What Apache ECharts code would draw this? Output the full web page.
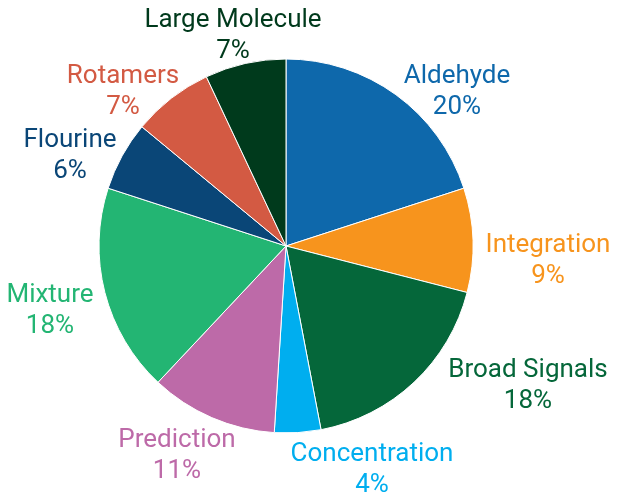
<!DOCTYPE html>
<html>
<head>
<meta charset="utf-8">
<script src="https://cdn.jsdelivr.net/npm/echarts@6/dist/echarts.min.js"></script>
<style>
html,body{margin:0;padding:0;background:#fff;}
#chart{width:620px;height:498px;}
</style>
</head>
<body>
<div id="chart"></div>
<script>
var categories = ['Aldehyde','Integration','Broad Signals','Concentration','Prediction','Mixture','Flourine','Rotamers','Large Molecule'];
var values = [20, 9, 18, 4, 11, 18, 6, 7, 7];
var colors = ['#0e68ab','#f7941d','#05673a','#00aeef','#bd6aa8','#23b573','#0a4677','#d35a43','#003a1c'];
// label centers (layout only)
var labelPos = [[457,92],[548,261],[528,386],[372,470],[177,456],[50,311],[70,156],[123,92],[233,36]];

var chart = echarts.init(document.getElementById('chart'), null, {renderer:'canvas'});
var data = categories.map(function(c,i){
  return {name:c, value:values[i], itemStyle:{color:colors[i]}, label:{color:colors[i]}};
});
chart.setOption({
  animation:false,
  series:[{
    type:'pie',
    center:[286,246],
    radius:187,
    startAngle:90,
    clockwise:true,
    data:data,
    itemStyle:{borderColor:'#ffffff', borderWidth:1},
    label:{
      show:true,
      position:'outside',
      formatter:'{b}\n{c}%',
      fontFamily:'Roboto',
      fontSize:26,
      lineHeight:31,
      align:'center',
      overflow:'none',
      edgeDistance:0,
      bleedMargin:0
    },
    labelLine:{show:false},
    labelLayout:function(p){
      var pos = labelPos[p.dataIndex];
      return {x:pos[0], y:pos[1], align:'center', verticalAlign:'middle', hideOverlap:false, moveOverlap:false};
    },
    emphasis:{disabled:true}
  }]
});
</script>
</body>
</html>
